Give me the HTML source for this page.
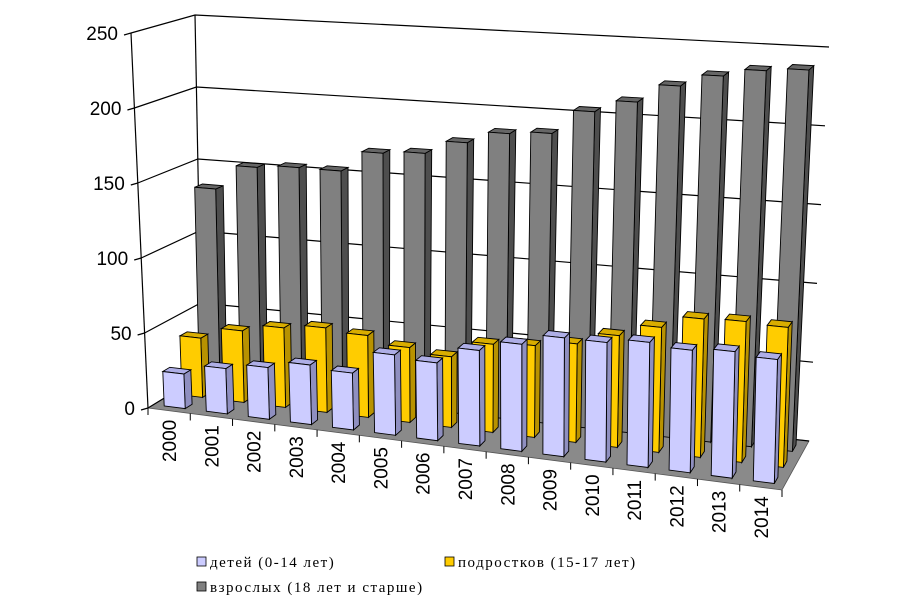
<!DOCTYPE html>
<html><head><meta charset="utf-8"><style>
html,body{margin:0;padding:0;background:#fff;}
svg{display:block;}
text{font-family:"Liberation Sans",Arial,sans-serif;}
.lg{font-family:"Liberation Serif","Times New Roman",serif;font-size:15px;letter-spacing:1.5px;}
</style></head><body>
<svg id="chart" width="919" height="607" viewBox="0 0 919 607" xmlns="http://www.w3.org/2000/svg">
<g id="walls"></g>
<g id="bars"></g>
<g id="axes"></g>
<g id="legend">
  <rect x="197" y="557" width="9" height="9" fill="#ccccff" stroke="#000" stroke-width="0.8"/>
  <text class="lg" x="210" y="567">детей (0-14 лет)</text>
  <rect x="445" y="557" width="9" height="9" fill="#ffcc00" stroke="#000" stroke-width="0.8"/>
  <text class="lg" x="458" y="567">подростков (15-17 лет)</text>
  <rect x="197" y="582" width="9" height="9" fill="#808080" stroke="#000" stroke-width="0.8"/>
  <text class="lg" x="210" y="592">взрослых (18 лет и старше)</text>
</g>
</svg>
<script>
const categories = ["2000","2001","2002","2003","2004","2005","2006","2007","2008","2009","2010","2011","2012","2013","2014"];
const childrenValues = [23,30,34,39,37,52,50,61,68,75,75,78,76,78,76];
const teenValues = [40,48,53,56,54,49,46,57,59,63,71,79,87,88,87];
const adultValues = [135,152,154,154,168,170,179,187,189,205,213,225,233,238,240];
const yTicks = [0,50,100,150,200,250];
const yMax = 250;

const NS = "http://www.w3.org/2000/svg";
function lerp(a,b,t){return a+(b-a)*t;}
function P(u,d,v){
  const t=v/yMax;
  const flx=148-17*t, fly=408-375*t, frx=782+10*t, fry=490-410*t;
  const blx=202-7*t, bly=375-360*t, brx=809+20*t, bry=441-394*t;
  const fx=lerp(flx,frx,u), fy=lerp(fly,fry,u);
  const bx=lerp(blx,brx,u), by=lerp(bly,bry,u);
  return [lerp(fx,bx,d), lerp(fy,by,d)];
}
function el(tag, attrs, parent){
  const e=document.createElementNS(NS,tag);
  for(const k in attrs) e.setAttribute(k,attrs[k]);
  parent.appendChild(e); return e;
}
function pts(a){return a.map(p=>p[0].toFixed(1)+","+p[1].toFixed(1)).join(" ");}

const walls=document.getElementById("walls");
const axes=document.getElementById("axes");
const bars=document.getElementById("bars");

const floor=el("polygon",{points:pts([P(0,0,0),P(1,0,0),P(1,1,0),P(0,1,0)]),fill:"#8a8a8a",stroke:"#555","stroke-width":"0.8"},walls);



yTicks.forEach(v=>{
  const a=P(0,0,v), b=P(0,1,v), c=P(1,1,v);
  const g=el("polyline",{points:pts([a,b,c]),fill:"none",stroke:"#000","stroke-width":"1.2"},walls);
  
  
  const tk=el("line",{x1:a[0]-7,y1:a[1]+2,x2:a[0],y2:a[1],stroke:"#000","stroke-width":"1.2"},axes);
  
  
  const tx=el("text",{x:a[0]-13,y:a[1]+7,"text-anchor":"end","font-size":"19"},axes);
  tx.textContent=v;
  
  
});
[[P(0,0,0),P(0,0,yMax)],[P(0,1,0),P(0,1,yMax)]].forEach(l=>{
  const e=el("line",{x1:l[0][0],y1:l[0][1],x2:l[1][0],y2:l[1][1],stroke:"#000","stroke-width":"1.2"},walls);
  
  
});

const n=categories.length;
const cw=1/n, bw=cw*0.5, dt=0.13;
const series=[
  {vals:adultValues,d:0.83,f:"#808080",s:"#4e4e4e",t:"#666666",name:"adults"},
  {vals:teenValues,d:0.5,f:"#ffcc00",s:"#b89200",t:"#d9ad00",name:"teens"},
  {vals:childrenValues,d:0.17,f:"#ccccff",s:"#8f8fc0",t:"#aeaee6",name:"children"}
];
series.forEach(sr=>{
  sr.vals.forEach((v,i)=>{
    const uc=(i+0.5)*cw, u0=uc-bw/2, u1=uc+bw/2, d0=sr.d-dt/2, d1=sr.d+dt/2;
    const g=el("g",{},bars);
    
    
    el("polygon",{points:pts([P(u1,d0,0),P(u1,d1,0),P(u1,d1,v),P(u1,d0,v)]),fill:sr.s,stroke:"#000","stroke-width":"0.9"},g);
    el("polygon",{points:pts([P(u0,d0,v),P(u1,d0,v),P(u1,d1,v),P(u0,d1,v)]),fill:sr.t,stroke:"#000","stroke-width":"0.9"},g);
    el("polygon",{points:pts([P(u0,d0,0),P(u1,d0,0),P(u1,d0,v),P(u0,d0,v)]),fill:sr.f,stroke:"#000","stroke-width":"0.9"},g);
  });
});

for(let i=0;i<=n;i++){
  const p=P(i*cw,0,0);
  const t=el("line",{x1:p[0],y1:p[1],x2:p[0],y2:p[1]+7,stroke:"#000","stroke-width":"1"},axes);
  
  
}
categories.forEach((c,i)=>{
  const p=P((i+0.5)*cw,0,0);
  const x=p[0]+7, y=p[1]+9;
  const tx=el("text",{x:x,y:y,"text-anchor":"end","font-size":"19",transform:"rotate(-90 "+x+" "+y+")"},axes);
  tx.textContent=c;
  
  
});
</script>
</body></html>
